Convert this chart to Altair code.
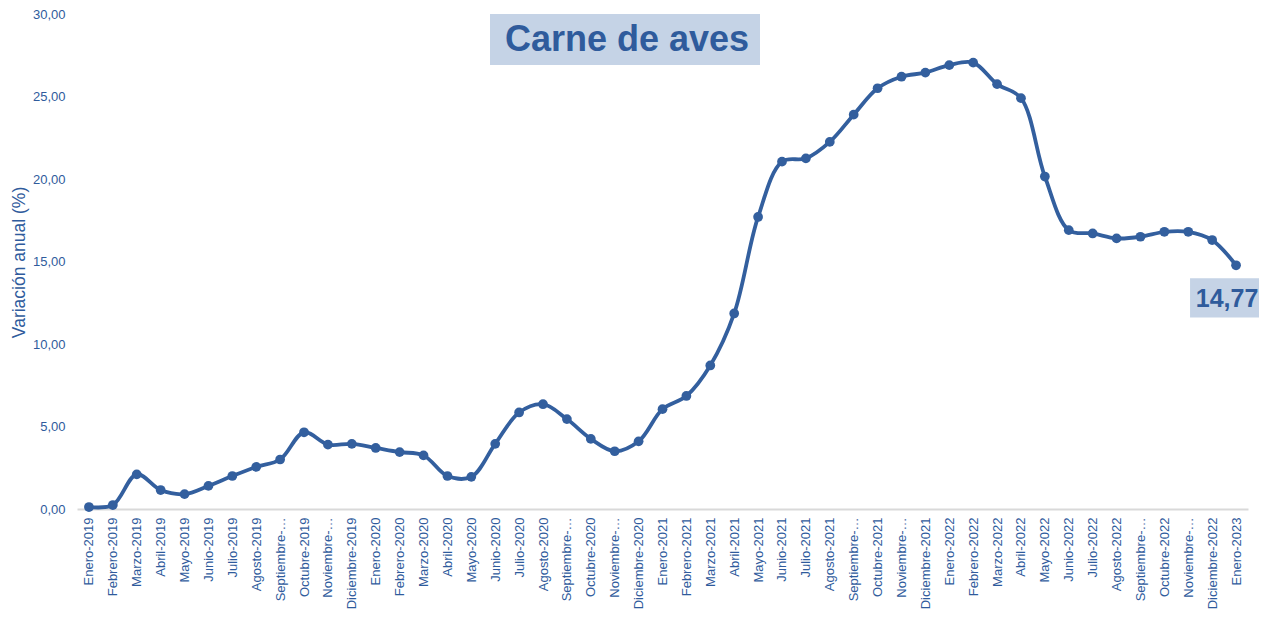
import altair as alt
import pandas as pd

months = [
    "Enero-2019", "Febrero-2019", "Marzo-2019", "Abril-2019", "Mayo-2019", "Junio-2019",
    "Julio-2019", "Agosto-2019", "Septiembre-2019", "Octubre-2019", "Noviembre-2019", "Diciembre-2019",
    "Enero-2020", "Febrero-2020", "Marzo-2020", "Abril-2020", "Mayo-2020", "Junio-2020",
    "Julio-2020", "Agosto-2020", "Septiembre-2020", "Octubre-2020", "Noviembre-2020", "Diciembre-2020",
    "Enero-2021", "Febrero-2021", "Marzo-2021", "Abril-2021", "Mayo-2021", "Junio-2021",
    "Julio-2021", "Agosto-2021", "Septiembre-2021", "Octubre-2021", "Noviembre-2021", "Diciembre-2021",
    "Enero-2022", "Febrero-2022", "Marzo-2022", "Abril-2022", "Mayo-2022", "Junio-2022",
    "Julio-2022", "Agosto-2022", "Septiembre-2022", "Octubre-2022", "Noviembre-2022", "Diciembre-2022",
    "Enero-2023",
]

values = [
    0.12, 0.24, 2.10, 1.15, 0.90, 1.40, 2.00, 2.55, 3.00, 4.65, 3.90, 3.95,
    3.70, 3.45, 3.25, 2.00, 1.95, 3.95, 5.85, 6.35, 5.45, 4.25, 3.50, 4.10,
    6.05, 6.85, 8.70, 11.85, 17.70, 21.05, 21.25, 22.25, 23.90, 25.50, 26.20, 26.45,
    26.90, 27.05, 25.75, 24.90, 20.15, 16.90, 16.70, 16.40, 16.50, 16.80, 16.80, 16.30,
    14.77,
]

y_ticks = [0, 5, 10, 15, 20, 25, 30]
chart_title = "Carne de aves"
y_title = "Variación anual (%)"

df = pd.DataFrame({"mes": months, "valor": values})
last = df.tail(1).copy()
last["etiqueta"] = last["valor"].map(lambda v: f"{v:.2f}".replace(".", ","))

BLUE = "#335f9e"
TEXT = "#2f5b9c"
BOX = "#c5d3e6"
FONT = "Liberation Sans"

x_enc = alt.X(
    "mes:N",
    sort=months,
    title=None,
    axis=alt.Axis(
        labelAngle=-90,
        labelAlign="right",
        labelBaseline="middle",
        labelFontSize=13,
        labelColor=TEXT,
        labelFont=FONT,
        labelPadding=8,
        labelLimit=200,
        labelExpr="indexof(datum.label, 'Septiembre') == 0 ? 'Septiembre-…' : (indexof(datum.label, 'Noviembre') == 0 ? 'Noviembre-…' : datum.label)",
        ticks=False,
        tickSize=0,
        domainColor="#d9d9d9",
        domainWidth=2,
        grid=False,
    ),
)

y_enc = alt.Y(
    "valor:Q",
    scale=alt.Scale(domain=[0, 30], nice=False, zero=True),
    title=y_title,
    axis=alt.Axis(
        values=y_ticks,
        labelExpr="replace(format(datum.value, '.2f'), '.', ',')",
        labelFontSize=13,
        labelColor=TEXT,
        labelFont=FONT,
        labelPadding=12,
        ticks=False,
        tickSize=0,
        domain=False,
        grid=False,
        titleFont=FONT,
        titleFontSize=17.5,
        titleFontWeight="normal",
        titleColor=TEXT,
        titleBaseline="alphabetic",
        titleX=-53,
        titleY=248,
    ),
)

line = alt.Chart(df).mark_line(
    color=BLUE, strokeWidth=3.8, interpolate="catmull-rom"
).encode(x=x_enc, y=y_enc)

points = alt.Chart(df).mark_circle(
    color=BLUE, size=95, opacity=1
).encode(x=alt.X("mes:N", sort=months), y=alt.Y("valor:Q"))

label_box = alt.Chart(last).mark_point(
    shape="M-1,-0.49L1,-0.49L1,0.49L-1,0.49Z",
    size=6400,
    filled=True,
    color=BOX,
    opacity=1,
    strokeWidth=0,
    xOffset=-6,
    yOffset=32.5,
).encode(x=alt.X("mes:N", sort=months), y=alt.Y("valor:Q"))

label_text = alt.Chart(last).mark_text(
    font=FONT, fontSize=25, fontWeight="bold", color=TEXT,
    align="center", baseline="middle", dx=-9, dy=33.5,
).encode(x=alt.X("mes:N", sort=months), y=alt.Y("valor:Q"), text="etiqueta:N")

title_box = alt.Chart(pd.DataFrame({"t": [chart_title]})).mark_rect(
    color=BOX
).encode(x=alt.value(413), x2=alt.value(683), y=alt.value(0), y2=alt.value(51))

title_text = alt.Chart(pd.DataFrame({"t": [chart_title]})).mark_text(
    font=FONT, fontSize=36, fontWeight="bold", color=TEXT,
    align="center", baseline="middle",
).encode(x=alt.value(550), y=alt.value(26), text="t:N")

chart = alt.layer(
    title_box, title_text, line, points, label_box, label_text
).properties(
    width=1171,
    height=495,
    autosize=alt.AutoSizeParams(type="none"),
    padding={"left": 69, "top": 6, "right": 11, "bottom": 102},
    background="white",
).configure_view(stroke=None)

chart.save("out.html", embed_options={"renderer": "svg", "actions": False})
